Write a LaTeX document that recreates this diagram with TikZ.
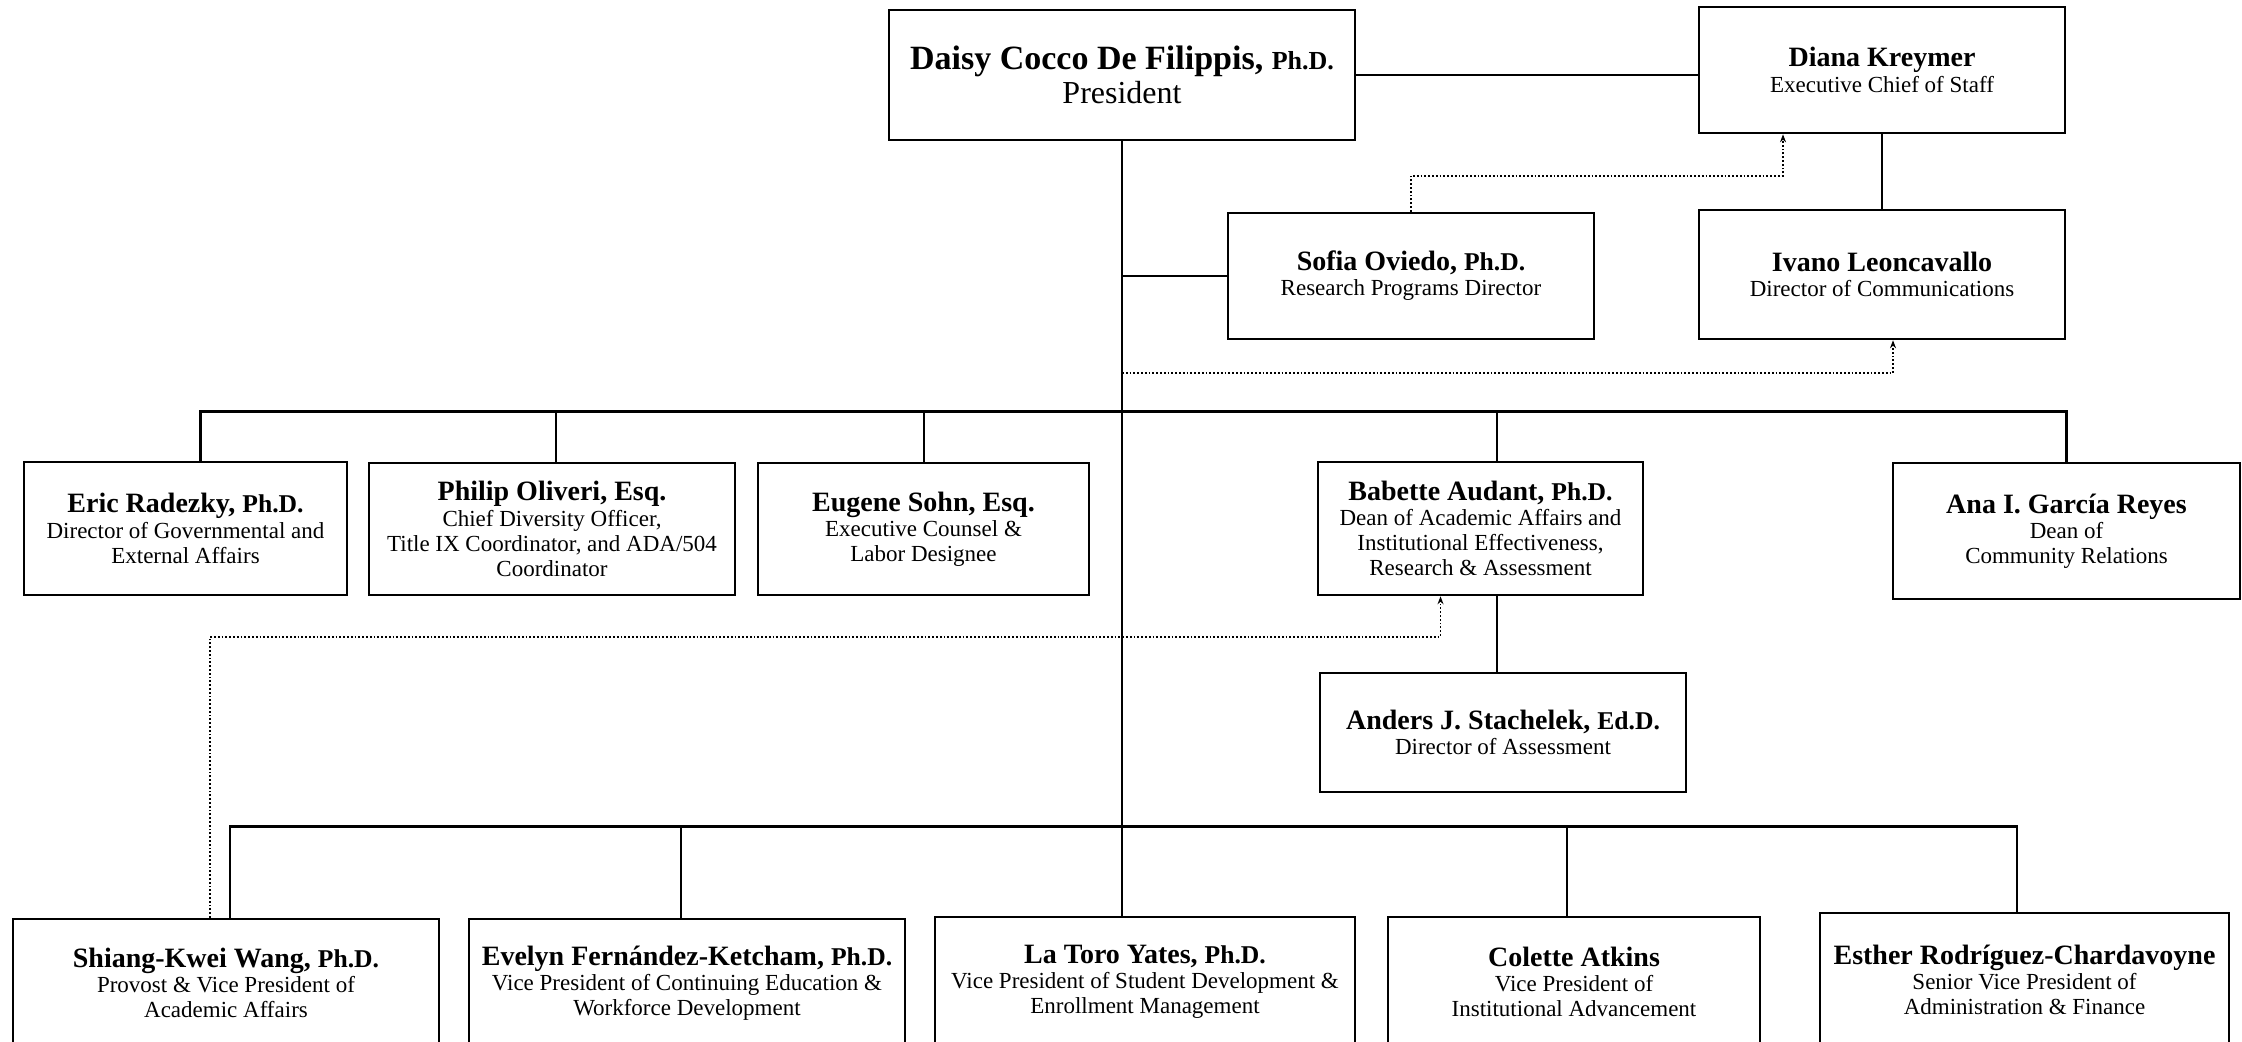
\documentclass[tikz,border=0pt]{standalone}
\usepackage{fontspec}
\setmainfont{Liberation Serif}
\usetikzlibrary{arrows.meta}
\newcommand\PName[1]{{\fontsize{14}{16}\selectfont\bfseries #1}}
\newcommand\PDeg[1]{{\fontsize{12.8}{14}\selectfont\bfseries #1}}
\tikzset{
  box/.style={draw, line width=1.3pt, rectangle, align=center, inner sep=2pt,
    font=\fontsize{11.5}{12.6}\selectfont},
  conn/.style={line width=1pt},
  bar/.style={line width=1.3pt},
  dotarrow/.style={line width=0.9pt, densely dotted, -{Stealth[length=4pt,width=3pt]}},
}
\begin{document}
\begin{tikzpicture}[x=0.5pt,y=-0.5pt]
\fill[white] (0,0) rectangle (2242,1042);
\useasboundingbox (0,0) rectangle (2242,1042);
\clip (0,0) rectangle (2242,1042);
% top
\node[box, minimum width=233pt, minimum height=65pt] (pres) at (1122,75)
  {{\fontsize{17}{19}\selectfont\bfseries Daisy Cocco De Filippis, {\fontsize{13}{15}\selectfont Ph.D.}}\\[1pt]
   {\fontsize{16}{17}\selectfont President}};
\node[box, minimum width=183pt, minimum height=63pt] (diana) at (1882,70)
  {\PName{Diana Kreymer}\\ Executive Chief of Staff};
\node[box, minimum width=183pt, minimum height=63pt] (sofia) at (1411,276)
  {\PName{Sofia Oviedo, \PDeg{Ph.D.}}\\ Research Programs Director};
\node[box, minimum width=183pt, minimum height=64.5pt] (ivano) at (1882,274.5)
  {\PName{Ivano Leoncavallo}\\ Director of Communications};
% second row
\node[box, minimum width=161.5pt, minimum height=66.5pt] (eric) at (185.5,528.5)
  {\PName{Eric Radezky, \PDeg{Ph.D.}}\\ Director of Governmental and\\ External Affairs};
\node[box, minimum width=183pt, minimum height=66pt] (philip) at (552,529)
  {\PName{Philip Oliveri, Esq.}\\ Chief Diversity Officer,\\ Title IX Coordinator, and ADA/504\\ Coordinator};
\node[box, minimum width=165.5pt, minimum height=66pt] (eugene) at (923.5,529)
  {\PName{Eugene Sohn, Esq.}\\ Executive Counsel \&\\ Labor Designee};
\node[box, minimum width=162.5pt, minimum height=66.5pt] (babette) at (1480.5,528.5)
  {\PName{Babette Audant, \PDeg{Ph.D.}}\\ Dean of Academic Affairs and\\ Institutional Effectiveness,\\ Research \& Assessment};
\node[box, minimum width=173.5pt, minimum height=68pt] (ana) at (2066.5,531)
  {\PName{Ana I. García Reyes}\\ Dean of\\ Community Relations};
\node[box, minimum width=183pt, minimum height=59.5pt] (anders) at (1503,732.5)
  {\PName{Anders J. Stachelek, \PDeg{Ed.D.}}\\ Director of Assessment};
% bottom row
\node[box, minimum width=213pt, minimum height=64pt] (shiang) at (226,983)
  {\PName{Shiang-Kwei Wang, \PDeg{Ph.D.}}\\ Provost \& Vice President of\\ Academic Affairs};
\node[box, minimum width=218pt, minimum height=64pt] (evelyn) at (687,983)
  {\PName{Evelyn Fernández-Ketcham, \PDeg{Ph.D.}}\\ Vice President of Continuing Education \&\\ Workforce Development};
\node[box, minimum width=210pt, minimum height=65pt] (latoro) at (1145,982)
  {\PName{La Toro Yates, \PDeg{Ph.D.}}\\ Vice President of Student Development \&\\ Enrollment Management};
\node[box, minimum width=186pt, minimum height=65pt] (colette) at (1574,982)
  {\PName{Colette Atkins}\\ Vice President of\\ Institutional Advancement};
\node[box, minimum width=204.5pt, minimum height=67pt] (esther) at (2024.5,980)
  {\PName{Esther Rodríguez-Chardavoyne}\\ Senior Vice President of\\ Administration \& Finance};
% connectors
\draw[bar] (pres.east) -- (pres.east -| diana.west);
\draw[conn] (diana.south) -- (ivano.north);
\draw[bar] (pres.south) -- (pres.south |- latoro.north);
\draw[bar] (pres.south |- sofia.west) -- (sofia.west);
\draw[dotarrow] (sofia.north) -- ++(0,-36) -| ([xshift=-49.5pt]diana.south);
\coordinate (jv) at (1122,373);
\draw[dotarrow] (jv) -| ([xshift=5.5pt]ivano.south);
% upper bar
\draw[bar] ([xshift=7.5pt]eric.north) -- ++(0,-49) -| (ana.north);
\draw[conn] ([xshift=2pt]philip.north) -- ++(0,-50);
\draw[conn] (eugene.north) -- ++(0,-50);
\draw[conn] ([xshift=8pt]babette.north) -- ++(0,-49);
\draw[conn] ([xshift=8pt]babette.south) -- ([xshift=8pt]babette.south |- anders.north);
\draw[dotarrow] ([xshift=-8pt]shiang.north) -- ++(0,-281) -| ([xshift=-20pt]babette.south);
% lower bar
\draw[bar] ([xshift=2pt]shiang.north) -- ++(0,-91) -| ([xshift=-3.75pt]esther.north);
\draw[conn] ([xshift=-3pt]evelyn.north) -- ++(0,-91);
\draw[conn] ([xshift=-3.5pt]colette.north) -- ++(0,-89);
\end{tikzpicture}
\end{document}
